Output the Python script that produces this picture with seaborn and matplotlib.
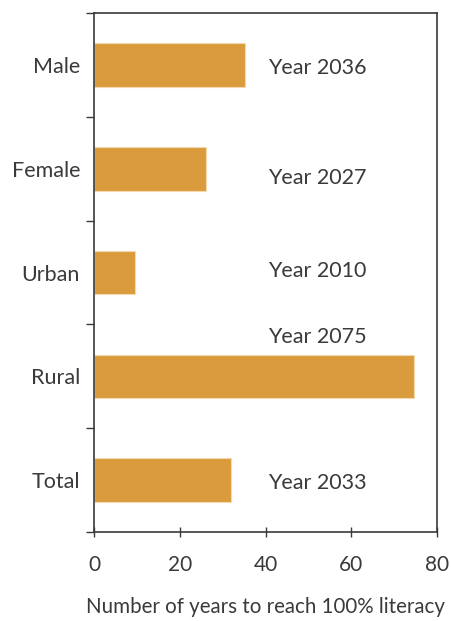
import numpy as np
import pandas as pd
import matplotlib.pyplot as plt
import seaborn as sns

# data
groups = ['Male', 'Female', 'Urban', 'Rural', 'Total']
years_to_literacy = [35.2, 26.1, 9.6, 74.6, 31.9]
year_labels = ['Year 2036', 'Year 2027', 'Year 2010', 'Year 2075', 'Year 2033']

df = pd.DataFrame({'group': groups, 'years': years_to_literacy})

sns.set_style('white')
plt.rcParams['font.family'] = ['Lato', 'DejaVu Sans']
text_color = '#3a3a3a'

fig = plt.figure(figsize=(4.51, 6.21), dpi=100)
ax = fig.add_axes([0.2084, 0.1433, 0.7606, 0.8357])

sns.barplot(data=df, x='years', y='group', orient='h', color='#DA9B3D',
            saturation=1, width=0.42, edgecolor='#F2D9AE', linewidth=0.8, ax=ax)

# year annotations, placed by hand next to each bar
label_x = 52
label_dy = [0.03, 0.09, -0.01, -0.38, 0.03]
for i, (lab, dy) in enumerate(zip(year_labels, label_dy)):
    ax.text(label_x, i + dy, lab, ha='center', va='center',
            fontsize=15.5, color=text_color)

ax.set_xlim(0, 80)
ax.set_ylim(len(groups) - 0.5, -0.5)
ax.set_xticks([0, 20, 40, 60, 80])
ax.set_yticks(np.arange(len(groups)))
ax.set_yticklabels(groups)
ax.set_yticks(np.arange(-0.5, len(groups)), minor=True)

ax.tick_params(axis='y', which='major', length=0, pad=10, labelsize=15.5, labelcolor=text_color)
ax.tick_params(axis='y', which='minor', length=6, width=1, color=text_color, direction='out', left=True)
ax.tick_params(axis='x', length=7, width=1, color=text_color, direction='inout', bottom=True,
               labelsize=15, labelcolor=text_color, pad=13)

for s in ax.spines.values():
    s.set_visible(True)
    s.set_color(text_color)
    s.set_linewidth(1.2)

ax.set_ylabel('')
ax.set_xlabel('Number of years to reach 100% literacy', fontsize=14.8, color=text_color, labelpad=16)

fig.savefig('out.png', dpi=100)
